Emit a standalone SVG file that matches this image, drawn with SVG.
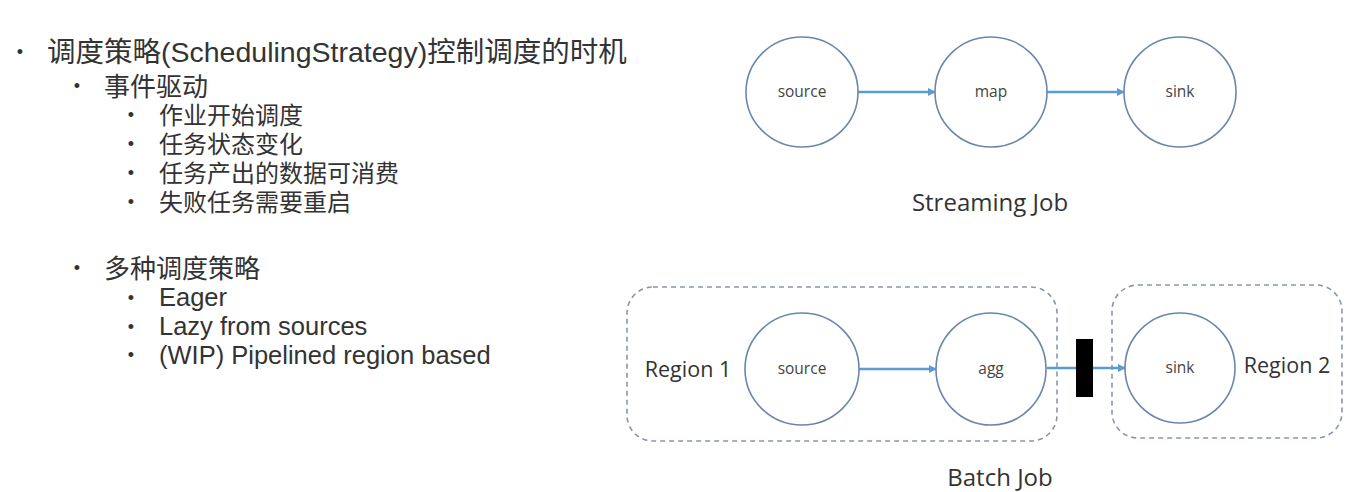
<svg xmlns="http://www.w3.org/2000/svg" width="1352" height="492" viewBox="0 0 1352 492">
<defs>
<style>
.t{font-family:"Liberation Sans","Noto Sans CJK SC",sans-serif;fill:#333}
.l1{font-size:28.5px}
.l2{font-size:26px}
.l3{font-size:24px}
.l3e{font-size:25.5px}
.b{font-family:"Liberation Sans",sans-serif;font-size:18px;fill:#333;text-anchor:middle}
.nd{fill:#fff;stroke:#6a86ad;stroke-width:1.6}
.nl{font-family:"Open Sans","Noto Sans",sans-serif;font-size:15.5px;fill:#444;text-anchor:middle}
.ed{stroke:#5b9bd5;stroke-width:2.5;fill:none;marker-end:url(#ah)}
.rg{fill:none;stroke:#8a96a8;stroke-width:1.6;stroke-dasharray:5 4}
.cap{font-family:"Open Sans","Noto Sans",sans-serif;font-size:24px;fill:#333;text-anchor:middle}
.rl{font-family:"Open Sans","Noto Sans",sans-serif;font-size:21.5px;fill:#333;text-anchor:middle}
</style>
<marker id="ah" viewBox="0 0 10 10" refX="9" refY="5" markerWidth="3.2" markerHeight="3.2" orient="auto" markerUnits="strokeWidth">
<path d="M0,0 L10,5 L0,10 z" fill="#5b9bd5"/>
</marker>
</defs>
<rect width="1352" height="492" fill="#fff"/>
<g id="text-list">
<text class="b" x="20" y="58">•</text>
<text class="t l1" x="47" y="62">调度策略(SchedulingStrategy)控制调度的时机</text>
<text class="b" x="77" y="92">•</text>
<text class="t l2" x="104" y="96">事件驱动</text>
<text class="b" x="131" y="121">•</text>
<text class="t l3" x="159" y="124">作业开始调度</text>
<text class="b" x="131" y="150">•</text>
<text class="t l3" x="159" y="153">任务状态变化</text>
<text class="b" x="131" y="179">•</text>
<text class="t l3" x="159" y="182">任务产出的数据可消费</text>
<text class="b" x="131" y="208">•</text>
<text class="t l3" x="159" y="211">失败任务需要重启</text>
<text class="b" x="77" y="274">•</text>
<text class="t l2" x="104" y="278">多种调度策略</text>
<text class="b" x="131" y="304">•</text>
<text class="t l3e" x="159" y="306">Eager</text>
<text class="b" x="131" y="333">•</text>
<text class="t l3e" x="159" y="335">Lazy from sources</text>
<text class="b" x="131" y="361">•</text>
<text class="t l3e" x="159" y="364">(WIP) Pipelined region based</text>
</g>
<g id="regions">
<rect id="region1" class="rg" x="627" y="287" width="430" height="154" rx="26"/>
<rect id="region2" class="rg" x="1112" y="285" width="230" height="153" rx="26"/>
<text class="rl" x="688" y="377">Region 1</text>
<text class="rl" x="1287" y="373">Region 2</text>
</g>
<g id="connectors">
<line class="ed" x1="857" y1="92" x2="935" y2="92"/>
<line class="ed" x1="1047" y1="92" x2="1124" y2="92"/>
<line class="ed" x1="859" y1="369" x2="936" y2="369"/>
<line class="ed" x1="1047" y1="368" x2="1125" y2="368"/>
</g>
<g id="s-source"><ellipse class="nd" cx="802" cy="92" rx="56" ry="55"/><text class="nl" x="802" y="97">source</text></g>
<g id="s-map"><ellipse class="nd" cx="991" cy="92" rx="56" ry="55"/><text class="nl" x="991" y="97">map</text></g>
<g id="s-sink"><ellipse class="nd" cx="1180" cy="92" rx="56" ry="55"/><text class="nl" x="1180" y="97">sink</text></g>
<text class="cap" x="990" y="211">Streaming Job</text>
<g id="b-source"><ellipse class="nd" cx="802" cy="369" rx="57" ry="56"/><text class="nl" x="802" y="374">source</text></g>
<g id="b-agg"><ellipse class="nd" cx="991" cy="369" rx="55" ry="56"/><text class="nl" x="991" y="374">agg</text></g>
<g id="b-sink"><ellipse class="nd" cx="1180" cy="368" rx="55" ry="55"/><text class="nl" x="1180" y="373">sink</text></g>
<g id="barrier"><rect x="1076" y="339" width="17" height="58" fill="#000"/></g>
<text class="cap" x="1000" y="486">Batch Job</text>
</svg>
